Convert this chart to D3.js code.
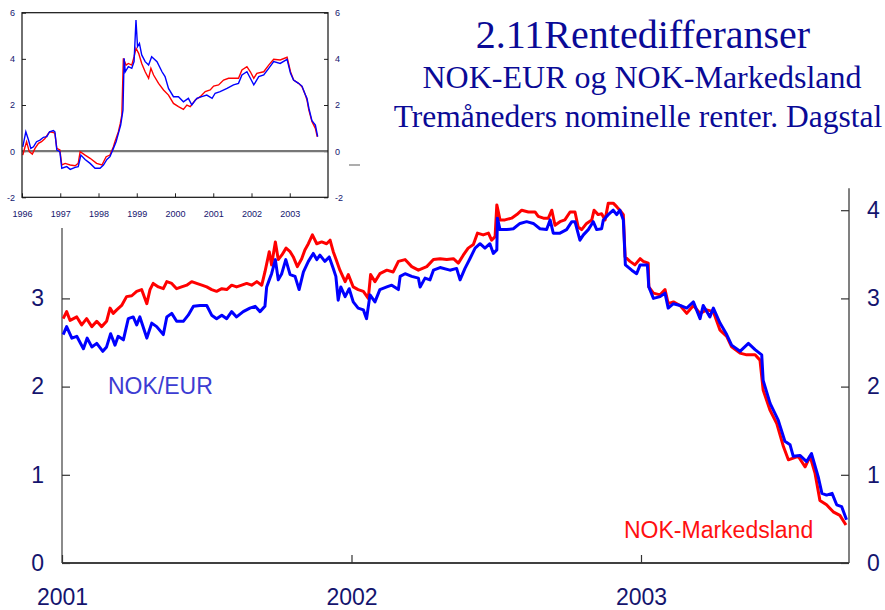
<!DOCTYPE html>
<html>
<head>
<meta charset="utf-8">
<script src="https://cdn.jsdelivr.net/npm/d3@7"></script>
<style>
  body { margin: 0; background: #fff; }
  svg { display: block; }
</style>
</head>
<body>
<div id="chart"></div>
<script>
const width = 885;
const height = 610;

// Title lines
const titleLines = ["2.11Rentedifferanser", "NOK-EUR og NOK-Markedsland", "Tremåneders nominelle renter. Dagstal"];

// Main chart: tick values
const mainYearTicks = [2001, 2002, 2003];
const mainRateTicks = [0, 1, 2, 3, 4];

// Main chart: [decimal year, percentage points]
const eurMain = [[2001.004,2.59],[2001.016,2.68],[2001.034,2.55],[2001.051,2.57],[2001.074,2.43],[2001.087,2.55],[2001.103,2.45],[2001.120,2.49],[2001.141,2.40],[2001.154,2.45],[2001.168,2.60],[2001.183,2.47],[2001.194,2.57],[2001.212,2.53],[2001.229,2.77],[2001.246,2.79],[2001.258,2.70],[2001.269,2.79],[2001.293,2.55],[2001.310,2.72],[2001.327,2.68],[2001.350,2.59],[2001.362,2.79],[2001.379,2.83],[2001.396,2.74],[2001.419,2.74],[2001.436,2.81],[2001.454,2.91],[2001.477,2.92],[2001.500,2.92],[2001.517,2.81],[2001.534,2.77],[2001.552,2.81],[2001.569,2.77],[2001.586,2.85],[2001.603,2.79],[2001.626,2.85],[2001.649,2.89],[2001.667,2.91],[2001.684,2.85],[2001.701,2.91],[2001.707,3.13],[2001.716,3.21],[2001.724,3.28],[2001.737,3.44],[2001.747,3.21],[2001.759,3.28],[2001.773,3.44],[2001.788,3.27],[2001.805,3.25],[2001.819,3.10],[2001.834,3.30],[2001.851,3.42],[2001.868,3.51],[2001.880,3.44],[2001.891,3.49],[2001.908,3.42],[2001.923,3.47],[2001.937,3.34],[2001.946,3.25],[2001.954,2.98],[2001.963,3.13],[2001.978,3.02],[2001.992,3.11],[2002.006,2.96],[2002.023,2.89],[2002.041,2.87],[2002.052,2.77],[2002.064,3.04],[2002.081,2.96],[2002.098,3.10],[2002.122,3.13],[2002.139,3.15],[2002.162,3.10],[2002.168,3.25],[2002.185,3.28],[2002.208,3.25],[2002.231,3.23],[2002.237,3.13],[2002.254,3.23],[2002.271,3.21],[2002.283,3.32],[2002.306,3.35],[2002.340,3.32],[2002.363,3.34],[2002.375,3.21],[2002.392,3.34],[2002.409,3.45],[2002.427,3.57],[2002.444,3.62],[2002.461,3.57],[2002.478,3.62],[2002.490,3.51],[2002.502,3.55],[2002.504,3.91],[2002.513,3.78],[2002.536,3.78],[2002.559,3.79],[2002.582,3.85],[2002.605,3.87],[2002.628,3.85],[2002.651,3.79],[2002.674,3.78],[2002.686,3.89],[2002.697,3.74],[2002.720,3.74],[2002.743,3.78],[2002.761,3.87],[2002.772,3.87],[2002.789,3.66],[2002.801,3.72],[2002.818,3.78],[2002.835,3.87],[2002.847,3.78],[2002.864,3.79],[2002.870,3.89],[2002.887,3.95],[2002.904,4.00],[2002.916,3.95],[2002.927,4.00],[2002.939,3.89],[2002.946,3.38],[2002.968,3.32],[2002.985,3.28],[2002.997,3.38],[2003.022,3.38],[2003.027,3.13],[2003.043,3.00],[2003.066,3.02],[2003.083,3.06],[2003.094,2.89],[2003.112,2.94],[2003.135,2.92],[2003.158,2.89],[2003.181,2.96],[2003.204,2.77],[2003.215,2.92],[2003.238,2.79],[2003.250,2.89],[2003.273,2.72],[2003.296,2.59],[2003.313,2.47],[2003.342,2.40],[2003.371,2.49],[2003.394,2.42],[2003.417,2.36],[2003.422,2.07],[2003.446,1.81],[2003.474,1.62],[2003.497,1.38],[2003.515,1.34],[2003.526,1.21],[2003.549,1.22],[2003.572,1.15],[2003.589,1.24],[2003.612,0.98],[2003.625,0.79],[2003.641,0.77],[2003.660,0.79],[2003.676,0.66],[2003.693,0.64],[2003.710,0.49]];

const mktMain = [[2001.004,2.77],[2001.016,2.85],[2001.028,2.75],[2001.051,2.79],[2001.068,2.70],[2001.085,2.77],[2001.103,2.68],[2001.120,2.74],[2001.137,2.68],[2001.154,2.74],[2001.166,2.89],[2001.177,2.83],[2001.189,2.87],[2001.206,2.92],[2001.223,3.02],[2001.241,3.03],[2001.258,3.08],[2001.275,3.10],[2001.293,2.94],[2001.304,3.10],[2001.315,3.17],[2001.333,3.13],[2001.350,3.11],[2001.362,3.19],[2001.379,3.17],[2001.396,3.11],[2001.413,3.13],[2001.431,3.15],[2001.448,3.19],[2001.465,3.17],[2001.483,3.15],[2001.500,3.13],[2001.517,3.10],[2001.534,3.08],[2001.552,3.11],[2001.569,3.10],[2001.586,3.15],[2001.603,3.13],[2001.621,3.15],[2001.638,3.17],[2001.655,3.15],[2001.673,3.19],[2001.690,3.15],[2001.701,3.30],[2001.716,3.53],[2001.724,3.38],[2001.737,3.64],[2001.747,3.44],[2001.759,3.49],[2001.774,3.57],[2001.788,3.53],[2001.799,3.47],[2001.813,3.36],[2001.828,3.45],[2001.839,3.55],[2001.851,3.62],[2001.865,3.72],[2001.880,3.62],[2001.897,3.64],[2001.914,3.62],[2001.926,3.66],[2001.937,3.53],[2001.949,3.42],[2001.960,3.32],[2001.978,3.19],[2001.989,3.27],[2002.006,3.13],[2002.023,3.10],[2002.041,3.08],[2002.058,3.00],[2002.066,3.27],[2002.081,3.19],[2002.098,3.28],[2002.122,3.32],[2002.144,3.30],[2002.162,3.42],[2002.185,3.44],[2002.208,3.36],[2002.231,3.32],[2002.260,3.36],[2002.283,3.44],[2002.306,3.45],[2002.329,3.44],[2002.352,3.45],[2002.369,3.40],[2002.386,3.49],[2002.403,3.57],[2002.421,3.61],[2002.435,3.74],[2002.455,3.72],[2002.473,3.74],[2002.484,3.66],[2002.496,3.70],[2002.502,4.06],[2002.513,3.89],[2002.530,3.89],[2002.553,3.91],[2002.571,3.95],[2002.588,4.00],[2002.611,3.98],[2002.634,3.98],[2002.645,3.93],[2002.663,3.91],[2002.680,3.91],[2002.692,4.00],[2002.703,3.83],[2002.720,3.87],[2002.737,3.89],[2002.755,3.98],[2002.772,3.98],[2002.783,3.81],[2002.795,3.78],[2002.812,3.85],[2002.830,3.89],[2002.838,4.00],[2002.852,3.95],[2002.864,3.96],[2002.876,3.89],[2002.887,4.08],[2002.904,4.08],[2002.916,4.04],[2002.927,4.00],[2002.939,3.95],[2002.945,3.47],[2002.962,3.42],[2002.979,3.38],[2002.997,3.45],[2003.008,3.42],[2003.025,3.40],[2003.027,3.13],[2003.043,3.06],[2003.066,3.04],[2003.083,3.10],[2003.094,2.94],[2003.112,2.96],[2003.135,2.92],[2003.158,2.83],[2003.181,2.92],[2003.204,2.83],[2003.227,2.87],[2003.250,2.85],[2003.273,2.64],[2003.296,2.57],[2003.313,2.45],[2003.342,2.38],[2003.365,2.36],[2003.394,2.36],[2003.411,2.30],[2003.422,1.96],[2003.446,1.73],[2003.469,1.58],[2003.492,1.32],[2003.509,1.17],[2003.543,1.21],[2003.567,1.09],[2003.584,1.21],[2003.601,1.02],[2003.618,0.71],[2003.641,0.66],[2003.664,0.58],[2003.687,0.54],[2003.708,0.43]];

// Inset chart 1996-2003
const insetYearTicks = [1996, 1997, 1998, 1999, 2000, 2001, 2002, 2003];
const insetRateTicks = [-2, 0, 2, 4, 6];

const eurInset = [[1996.02,0.19],[1996.10,0.84],[1996.17,0.48],[1996.23,0.12],[1996.30,0.19],[1996.38,0.41],[1996.47,0.48],[1996.56,0.60],[1996.65,0.63],[1996.72,0.84],[1996.82,0.89],[1996.86,0.84],[1996.91,0.05],[1996.99,-0.02],[1997.04,-0.74],[1997.17,-0.67],[1997.26,-0.79],[1997.39,-0.70],[1997.47,-0.67],[1997.54,-0.17],[1997.65,-0.36],[1997.78,-0.53],[1997.91,-0.74],[1998.04,-0.74],[1998.13,-0.60],[1998.22,-0.36],[1998.30,-0.24],[1998.39,0.12],[1998.46,0.41],[1998.52,0.77],[1998.58,1.13],[1998.64,1.78],[1998.67,4.02],[1998.70,3.44],[1998.78,3.66],[1998.87,3.59],[1998.93,3.88],[1998.98,5.68],[1999.02,4.53],[1999.07,4.67],[1999.13,4.17],[1999.22,3.88],[1999.31,3.73],[1999.39,4.09],[1999.53,3.88],[1999.66,3.44],[1999.74,3.23],[1999.83,2.72],[1999.96,2.36],[2000.09,2.36],[2000.22,2.14],[2000.35,2.29],[2000.44,2.00],[2000.57,2.29],[2000.70,2.36],[2000.83,2.43],[2000.97,2.29],[2001.05,2.51],[2001.18,2.58],[2001.36,2.72],[2001.53,2.87],[2001.66,2.94],[2001.75,3.30],[2001.88,3.44],[2001.97,3.16],[2002.06,2.87],[2002.19,3.23],[2002.32,3.30],[2002.45,3.59],[2002.58,3.88],[2002.75,3.80],[2002.93,3.98],[2003.02,3.37],[2003.10,3.08],[2003.23,2.94],[2003.32,2.82],[2003.41,2.43],[2003.45,2.29],[2003.50,1.86],[2003.58,1.32],[2003.67,1.13],[2003.73,0.63]];

const mktInset = [[1996.02,-0.17],[1996.08,0.19],[1996.12,0.41],[1996.19,-0.02],[1996.27,-0.13],[1996.34,0.12],[1996.43,0.34],[1996.51,0.41],[1996.60,0.55],[1996.69,0.77],[1996.73,0.84],[1996.82,0.81],[1996.86,0.77],[1996.91,0.12],[1996.99,0.05],[1997.04,-0.60],[1997.13,-0.53],[1997.26,-0.60],[1997.39,-0.63],[1997.47,-0.53],[1997.52,-0.02],[1997.65,-0.17],[1997.78,-0.31],[1997.95,-0.53],[1998.09,-0.60],[1998.20,-0.24],[1998.30,-0.17],[1998.39,0.19],[1998.43,0.41],[1998.52,0.84],[1998.57,1.20],[1998.61,1.57],[1998.65,4.02],[1998.72,3.73],[1998.78,3.80],[1998.87,3.73],[1998.93,4.09],[1998.98,4.46],[1999.05,4.24],[1999.13,3.80],[1999.22,3.44],[1999.31,3.16],[1999.37,3.59],[1999.44,3.30],[1999.57,2.94],[1999.70,2.65],[1999.83,2.43],[1999.96,2.07],[2000.09,1.93],[2000.22,1.81],[2000.31,2.00],[2000.40,1.93],[2000.53,2.22],[2000.66,2.36],[2000.79,2.58],[2000.92,2.65],[2001.01,2.82],[2001.14,2.87],[2001.27,3.08],[2001.40,3.16],[2001.53,3.16],[2001.66,3.16],[2001.75,3.52],[2001.88,3.66],[2001.97,3.44],[2002.06,3.16],[2002.14,3.37],[2002.32,3.44],[2002.45,3.73],[2002.58,3.98],[2002.75,3.95],[2002.93,4.07],[2003.02,3.44],[2003.10,3.08],[2003.23,2.94],[2003.32,2.79],[2003.41,2.43],[2003.45,2.22],[2003.50,1.78],[2003.58,1.28],[2003.67,0.99],[2003.72,0.62]];

const navy = "#14146e";
const sans = "Arial, 'Liberation Sans', sans-serif";
const serif = "'Times New Roman', 'Liberation Serif', serif";
const plain = d => String(d); // keep the ASCII hyphen for negatives

const svg = d3.select("#chart")
	.append("svg")
	.attr("width", width)
	.attr("height", height);

function mainChart() {
	let x = d3.scaleLinear()
		.domain([2001, 2003.7185])
		.range([62, 849]);

	let y = d3.scaleLinear()
		.domain([0, 4])
		.range([563, 210.2]);

	let g = svg.append("g");

	// axis lines (drawn by hand so they can have different grays)
	g.append("line")
		.attr("x1", x(2001)).attr("x2", x(2001))
		.attr("y1", y(4.4)).attr("y2", y(0))
		.attr("stroke", "#6e6e6e").attr("stroke-width", 1.6);
	g.append("line")
		.attr("x1", x(2003.7185)).attr("x2", x(2003.7185))
		.attr("y1", y(4.25)).attr("y2", y(0))
		.attr("stroke", "#808080").attr("stroke-width", 2);
	g.append("line")
		.attr("x1", x(2001)).attr("x2", x(2003.7185))
		.attr("y1", y(0)).attr("y2", y(0))
		.attr("stroke", "#404040").attr("stroke-width", 2);

	let leftAxis = g.append("g")
		.attr("transform", `translate(${x(2001)},0)`)
		.call(d3.axisLeft(y).tickValues(mainRateTicks).tickSize(-8).tickPadding(18).tickFormat(plain));
	let rightAxis = g.append("g")
		.attr("transform", `translate(${x(2003.7185)},0)`)
		.call(d3.axisRight(y).tickValues(mainRateTicks).tickSize(-8).tickPadding(18).tickFormat(plain));
	let bottomAxis = g.append("g")
		.attr("transform", `translate(0,${y(0)})`)
		.call(d3.axisBottom(x).tickValues(mainYearTicks).tickSize(-8).tickPadding(26).tickFormat(plain));

	[leftAxis, rightAxis, bottomAxis].forEach(a => {
		a.select(".domain").remove();
		a.selectAll(".tick line").attr("stroke", "#333").attr("stroke-width", 1.2);
		a.selectAll(".tick text")
			.attr("fill", navy)
			.style("font-family", sans)
			.style("font-size", "23px");
	});

	// white background for the inset covers the top of the left axis
	svg.append("rect")
		.attr("x", 0).attr("y", 0)
		.attr("width", 362).attr("height", 228)
		.attr("fill", "#fff");

	let line = d3.line()
		.x(d => x(d[0]))
		.y(d => y(d[1]));

	svg.append("path")
		.datum(mktMain)
		.attr("d", line)
		.attr("fill", "none")
		.attr("stroke", "#ff0000")
		.attr("stroke-width", 3)
		.attr("stroke-linejoin", "round");

	svg.append("path")
		.datum(eurMain)
		.attr("d", line)
		.attr("fill", "none")
		.attr("stroke", "#0000ff")
		.attr("stroke-width", 3)
		.attr("stroke-linejoin", "round");

	// series labels
	svg.append("text")
		.attr("x", 108).attr("y", 394)
		.attr("fill", "#3c3cd2")
		.style("font-family", sans)
		.style("font-size", "23px")
		.text("NOK/EUR");

	svg.append("text")
		.attr("x", 624).attr("y", 538)
		.attr("fill", "#ff1010")
		.style("font-family", sans)
		.style("font-size", "23px")
		.text("NOK-Markedsland");
}

function insetChart() {
	let x = d3.scaleLinear()
		.domain([1996, 2004])
		.range([22, 328]);

	let y = d3.scaleLinear()
		.domain([-2, 6])
		.range([197.3, 12.7]);

	let g = svg.append("g");

	let axes = [
		g.append("g").attr("transform", `translate(${x(1996)},0)`)
			.call(d3.axisLeft(y).tickValues(insetRateTicks).tickSize(-4).tickPadding(7).tickFormat(plain)),
		g.append("g").attr("transform", `translate(${x(2004)},0)`)
			.call(d3.axisRight(y).tickValues(insetRateTicks).tickSize(-4).tickPadding(7).tickFormat(plain)),
		g.append("g").attr("transform", `translate(0,${y(-2)})`)
			.call(d3.axisBottom(x).tickValues(insetYearTicks).tickSize(-4).tickPadding(13).tickFormat(plain))
	];
	axes.forEach(a => {
		a.select(".domain").remove();
		a.selectAll(".tick line").attr("stroke", "#222");
		a.selectAll(".tick text")
			.attr("fill", navy)
			.style("font-family", sans)
			.style("font-size", "9px");
	});

	// zero line
	g.append("line")
		.attr("x1", x(1996)).attr("x2", x(2004))
		.attr("y1", y(0)).attr("y2", y(0))
		.attr("stroke", "#777").attr("stroke-width", 2.2);

	let line = d3.line()
		.x(d => x(d[0]))
		.y(d => y(d[1]));

	g.append("path")
		.datum(mktInset)
		.attr("d", line)
		.attr("fill", "none")
		.attr("stroke", "#ff0000")
		.attr("stroke-width", 1.4);

	g.append("path")
		.datum(eurInset)
		.attr("d", line)
		.attr("fill", "none")
		.attr("stroke", "#0000ff")
		.attr("stroke-width", 1.4);

	// frame
	g.append("rect")
		.attr("x", x(1996)).attr("y", y(6))
		.attr("width", x(2004) - x(1996))
		.attr("height", y(-2) - y(6))
		.attr("fill", "none")
		.attr("stroke", "#111")
		.attr("stroke-width", 1.2);

	// stray legend stub at the right edge of the inset
	g.append("line")
		.attr("x1", 349).attr("x2", 360)
		.attr("y1", 165).attr("y2", 165)
		.attr("stroke", "#777").attr("stroke-width", 1.2);
}

function title() {
	let sizes = [40, 32, 31.5];
	let baselines = [48, 88, 127];
	let centers = [643, 642, 638];
	svg.append("g")
		.selectAll("text")
		.data(titleLines)
		.enter()
		.append("text")
		.attr("x", (d, i) => centers[i])
		.attr("y", (d, i) => baselines[i])
		.attr("text-anchor", "middle")
		.attr("fill", "#0a0a96")
		.style("font-family", serif)
		.style("font-size", (d, i) => sizes[i] + "px")
		.text(d => d);
}

mainChart();
insetChart();
title();
</script>
</body>
</html>
